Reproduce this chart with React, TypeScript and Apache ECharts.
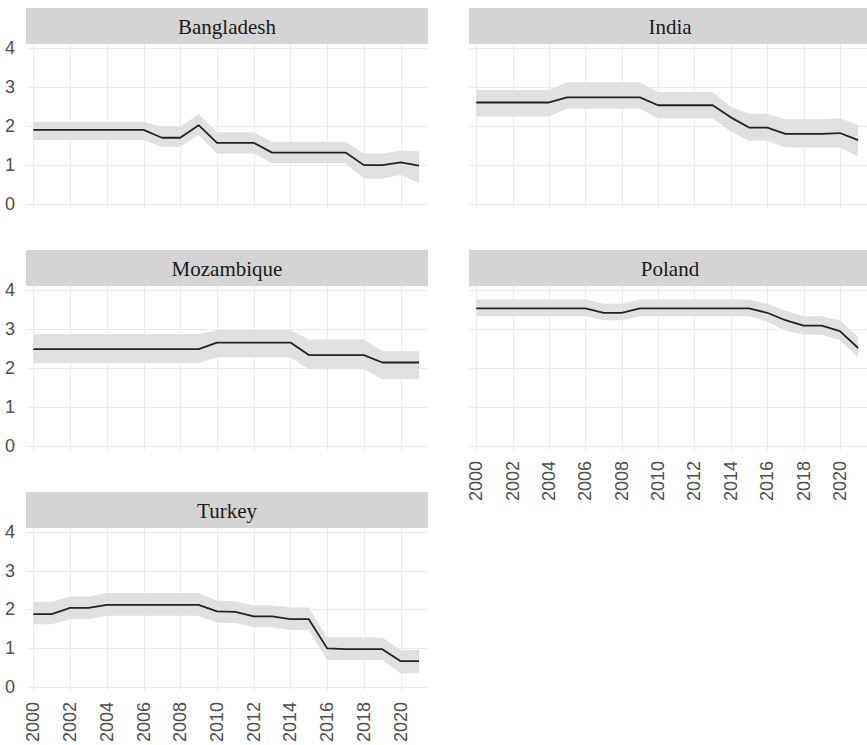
import React, { useEffect, useRef } from "react";
import * as echarts from "echarts";

const years = [2000, 2001, 2002, 2003, 2004, 2005, 2006, 2007, 2008, 2009, 2010, 2011, 2012, 2013, 2014, 2015, 2016, 2017, 2018, 2019, 2020, 2021];
const xTickValues = [2000, 2002, 2004, 2006, 2008, 2010, 2012, 2014, 2016, 2018, 2020];
const yTickValues = [0, 1, 2, 3, 4];
const countries = ["Bangladesh", "India", "Mozambique", "Poland", "Turkey"];

const bangladeshMean = [1.9, 1.9, 1.9, 1.9, 1.9, 1.9, 1.9, 1.7, 1.7, 2.02, 1.57, 1.57, 1.57, 1.32, 1.32, 1.32, 1.32, 1.32, 1.0, 1.0, 1.07, 0.99];
const bangladeshLower = [1.64, 1.64, 1.64, 1.64, 1.64, 1.64, 1.64, 1.47, 1.47, 1.77, 1.3, 1.3, 1.3, 1.05, 1.05, 1.05, 1.05, 1.05, 0.66, 0.66, 0.75, 0.55];
const bangladeshUpper = [2.11, 2.11, 2.11, 2.11, 2.11, 2.11, 2.11, 1.98, 1.98, 2.3, 1.84, 1.84, 1.84, 1.6, 1.6, 1.6, 1.6, 1.6, 1.3, 1.3, 1.37, 1.36];

const indiaMean = [2.6, 2.6, 2.6, 2.6, 2.6, 2.73, 2.73, 2.73, 2.73, 2.73, 2.53, 2.53, 2.53, 2.53, 2.22, 1.96, 1.96, 1.8, 1.8, 1.8, 1.82, 1.64];
const indiaLower = [2.24, 2.24, 2.24, 2.24, 2.24, 2.44, 2.44, 2.44, 2.44, 2.44, 2.19, 2.19, 2.19, 2.19, 1.86, 1.62, 1.62, 1.45, 1.45, 1.45, 1.45, 1.22];
const indiaUpper = [2.92, 2.92, 2.92, 2.92, 2.92, 3.12, 3.12, 3.12, 3.12, 3.12, 2.87, 2.87, 2.87, 2.87, 2.49, 2.31, 2.31, 2.17, 2.17, 2.17, 2.2, 2.03];

const mozambiqueMean = [2.48, 2.48, 2.48, 2.48, 2.48, 2.48, 2.48, 2.48, 2.48, 2.48, 2.65, 2.65, 2.65, 2.65, 2.65, 2.33, 2.33, 2.33, 2.33, 2.14, 2.14, 2.14];
const mozambiqueLower = [2.12, 2.12, 2.12, 2.12, 2.12, 2.12, 2.12, 2.12, 2.12, 2.12, 2.27, 2.27, 2.27, 2.27, 2.27, 1.97, 1.97, 1.97, 1.97, 1.71, 1.71, 1.71];
const mozambiqueUpper = [2.86, 2.86, 2.86, 2.86, 2.86, 2.86, 2.86, 2.86, 2.86, 2.86, 2.97, 2.97, 2.97, 2.97, 2.97, 2.73, 2.73, 2.73, 2.73, 2.43, 2.43, 2.43];

const polandMean = [3.52, 3.52, 3.52, 3.52, 3.52, 3.52, 3.52, 3.41, 3.41, 3.52, 3.52, 3.52, 3.52, 3.52, 3.52, 3.52, 3.41, 3.22, 3.08, 3.08, 2.94, 2.51];
const polandLower = [3.32, 3.32, 3.32, 3.32, 3.32, 3.32, 3.32, 3.22, 3.22, 3.32, 3.32, 3.32, 3.32, 3.32, 3.32, 3.32, 3.18, 2.96, 2.85, 2.85, 2.71, 2.27];
const polandUpper = [3.75, 3.75, 3.75, 3.75, 3.75, 3.75, 3.75, 3.64, 3.64, 3.75, 3.75, 3.75, 3.75, 3.75, 3.75, 3.75, 3.64, 3.47, 3.32, 3.32, 3.22, 2.79];

const turkeyMean = [1.88, 1.88, 2.04, 2.04, 2.12, 2.12, 2.12, 2.12, 2.12, 2.12, 1.95, 1.94, 1.82, 1.82, 1.75, 1.75, 1.0, 0.98, 0.98, 0.98, 0.67, 0.67];
const turkeyLower = [1.62, 1.62, 1.75, 1.75, 1.84, 1.84, 1.84, 1.84, 1.84, 1.84, 1.66, 1.65, 1.54, 1.54, 1.47, 1.47, 0.7, 0.7, 0.7, 0.7, 0.36, 0.36];
const turkeyUpper = [2.2, 2.2, 2.33, 2.33, 2.42, 2.42, 2.42, 2.42, 2.42, 2.42, 2.23, 2.21, 2.1, 2.1, 2.05, 2.05, 1.28, 1.28, 1.28, 1.28, 0.96, 0.96];

const means = [bangladeshMean, indiaMean, mozambiqueMean, polandMean, turkeyMean];
const lowers = [bangladeshLower, indiaLower, mozambiqueLower, polandLower, turkeyLower];
const uppers = [bangladeshUpper, indiaUpper, mozambiqueUpper, polandUpper, turkeyUpper];

// layout
const colLeft = [26, 469];
const rowStripTop = [8, 250, 492];
const panelWidth = 402;
const stripHeight = 36;
const panelHeight = 164;
const showXLabels = [false, false, false, true, true];
const showYLabels = [true, false, true, false, true];

export default function App() {
  const ref = useRef<HTMLDivElement>(null);

  useEffect(() => {
    if (!ref.current) return;
    const chart = echarts.init(ref.current, undefined, { renderer: "svg" });

    const grids: any[] = [];
    const xAxes: any[] = [];
    const yAxes: any[] = [];
    const series: any[] = [];
    const graphics: any[] = [];

    countries.forEach((name, i) => {
      const col = i % 2;
      const row = Math.floor(i / 2);
      const left = colLeft[col];
      const stripTop = rowStripTop[row];
      const top = stripTop + stripHeight;

      grids.push({ left, top, width: panelWidth, height: panelHeight, containLabel: false });

      graphics.push({
        type: "rect",
        shape: { x: left, y: stripTop, width: panelWidth, height: stripHeight },
        style: { fill: "#d4d4d4" },
        silent: true,
      });
      graphics.push({
        type: "text",
        x: left + panelWidth / 2,
        y: stripTop + stripHeight / 2 + 1,
        style: {
          text: name,
          fill: "#1a1a1a",
          font: '21px "Liberation Serif"',
          align: "center",
          verticalAlign: "middle",
        },
        silent: true,
      });

      xAxes.push({
        type: "value",
        gridIndex: i,
        min: 1999.6,
        max: 2021.49,
        axisLine: { show: false },
        axisTick: { show: false },
        splitLine: { show: false },
        axisLabel: {
          show: showXLabels[i],
          customValues: xTickValues,
          rotate: 90,
          margin: 11,
          color: "#4d4d4d",
          fontSize: 18,
          fontFamily: "Liberation Sans",
          formatter: (v: number) => String(v),
        },
      });
      yAxes.push({
        type: "value",
        gridIndex: i,
        min: -0.095,
        max: 4.094,
        axisLine: { show: false },
        axisTick: { show: false },
        splitLine: { show: false },
        axisLabel: {
          show: showYLabels[i],
          customValues: yTickValues,
          margin: 11,
          color: "#4d4d4d",
          fontSize: 18,
          fontFamily: "Liberation Sans",
          formatter: (v: number) => String(v),
        },
      });

      const lower = lowers[i];
      const upper = uppers[i];
      const mean = means[i];

      // grid lines drawn through the axes' scales
      series.push({
        type: "custom",
        xAxisIndex: i,
        yAxisIndex: i,
        silent: true,
        z: 1,
        clip: false,
        data: [[2000, 0]],
        renderItem: (params: any, api: any) => {
          const cs = params.coordSys;
          const children: any[] = [];
          xTickValues.forEach((v) => {
            const x = Math.round(api.coord([v, 0])[0]) + 0.5;
            children.push({
              type: "line",
              shape: { x1: x, y1: cs.y, x2: x, y2: cs.y + cs.height },
              style: { stroke: "#ebebeb", lineWidth: 1 },
            });
          });
          yTickValues.forEach((v) => {
            const y = Math.round(api.coord([2000, v])[1]) + 0.5;
            children.push({
              type: "line",
              shape: { x1: cs.x, y1: y, x2: cs.x + cs.width, y2: y },
              style: { stroke: "#ebebeb", lineWidth: 1 },
            });
          });
          return { type: "group", children };
        },
      });

      // confidence ribbon
      series.push({
        type: "custom",
        xAxisIndex: i,
        yAxisIndex: i,
        silent: true,
        z: 2,
        encode: { x: 0, y: [1, 2] },
        data: years.map((y, k) => [y, lower[k], upper[k]]),
        renderItem: (params: any, api: any) => {
          if (params.dataIndex !== 0) return null;
          const top = years.map((y, k) => api.coord([y, upper[k]]));
          const bottom = years.map((y, k) => api.coord([y, lower[k]])).reverse();
          return {
            type: "polygon",
            shape: { points: top.concat(bottom) },
            style: { fill: "#e0e0e0" },
          };
        },
      });

      series.push({
        type: "line",
        xAxisIndex: i,
        yAxisIndex: i,
        symbol: "none",
        silent: true,
        z: 5,
        lineStyle: { color: "#222222", width: 1.8 },
        data: years.map((y, k) => [y, mean[k]]),
      });
    });

    chart.setOption({
      animation: false,
      backgroundColor: "#ffffff",
      grid: grids,
      xAxis: xAxes,
      yAxis: yAxes,
      series,
      graphic: graphics,
    });

    return () => chart.dispose();
  }, []);

  return (
    <div
      ref={ref}
      style={{ position: "fixed", left: 0, top: 0, width: 867, height: 745 }}
    />
  );
}
